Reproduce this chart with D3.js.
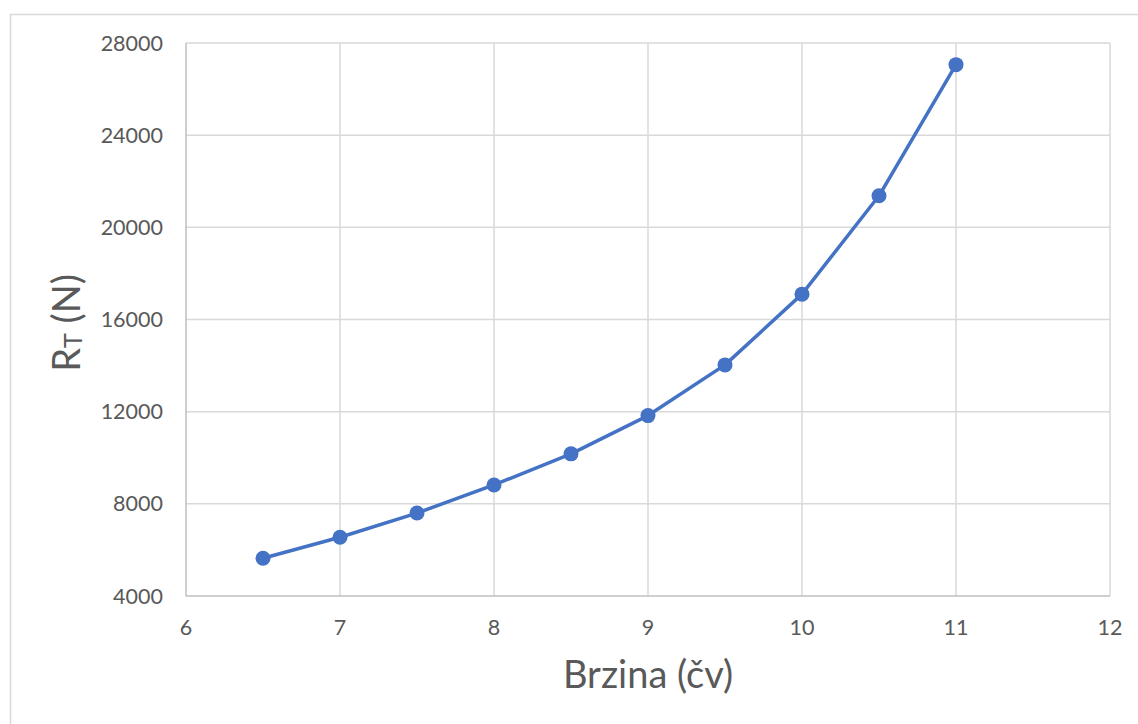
<!DOCTYPE html>
<html>
<head>
<meta charset="utf-8">
<title>RT vs Brzina</title>
<script src="https://cdn.jsdelivr.net/npm/d3@7"></script>
<style>
  body { margin: 0; background: #fff; }
  text { font-family: Lato, "Open Sans", sans-serif; fill: #595959; }
</style>
</head>
<body>
<div id="chart"></div>
<script>
// speed in knots and total resistance in N
var speeds = [6.5, 7, 7.5, 8, 8.5, 9, 9.5, 10, 10.5, 11];
var resist = [5640, 6550, 7600, 8820, 10170, 11830, 14030, 17100, 21370, 27060];
var xTicks = [6, 7, 8, 9, 10, 11, 12];
var yTicks = [4000, 8000, 12000, 16000, 20000, 24000, 28000];

var W = 1138, H = 724;
var m = { left: 186, top: 43, right: 1110, bottom: 596 };

var svg = d3.select('#chart').append('svg')
  .attr('width', W).attr('height', H);

// chart frame
svg.append('rect')
  .attr('x', 10.5).attr('y', 14.5)
  .attr('width', W + 10).attr('height', H + 10)
  .attr('fill', 'none').attr('stroke', '#d9d9d9').attr('stroke-width', 1.5);

var x = d3.scaleLinear().domain([6, 12]).range([m.left, m.right]);
var y = d3.scaleLinear().domain([4000, 28000]).range([m.bottom, m.top]);

// gridlines
svg.append('g').selectAll('line.vg')
  .data(xTicks.slice(1)).enter().append('line')
  .attr('x1', function(d){ return x(d); }).attr('x2', function(d){ return x(d); })
  .attr('y1', m.top).attr('y2', m.bottom)
  .attr('stroke', '#d9d9d9').attr('stroke-width', 1.5);

svg.append('g').selectAll('line.hg')
  .data(yTicks.slice(1)).enter().append('line')
  .attr('y1', function(d){ return y(d); }).attr('y2', function(d){ return y(d); })
  .attr('x1', m.left).attr('x2', m.right)
  .attr('stroke', '#d9d9d9').attr('stroke-width', 1.5);

// axes lines
svg.append('line')
  .attr('x1', m.left).attr('x2', m.left).attr('y1', m.top).attr('y2', m.bottom)
  .attr('stroke', '#bfbfbf').attr('stroke-width', 1.5);
svg.append('line')
  .attr('x1', m.left).attr('x2', m.right).attr('y1', m.bottom).attr('y2', m.bottom)
  .attr('stroke', '#bfbfbf').attr('stroke-width', 1.5);

// tick labels
svg.append('g').selectAll('text')
  .data(xTicks).enter().append('text')
  .attr('x', function(d){ return x(d); })
  .attr('y', 635)
  .attr('text-anchor', 'middle')
  .style('font-size', '21.5px')
  .text(function(d){ return d; });

svg.append('g').selectAll('text')
  .data(yTicks).enter().append('text')
  .attr('x', 163)
  .attr('y', function(d){ return y(d) + 7.5; })
  .attr('text-anchor', 'end')
  .style('font-size', '21.5px')
  .text(function(d){ return d; });

// axis titles
svg.append('text')
  .attr('x', 648).attr('y', 688)
  .attr('text-anchor', 'middle')
  .style('font-size', '38px')
  .text('Brzina (čv)');

var yt = svg.append('text')
  .attr('transform', 'translate(80,323) rotate(-90)')
  .attr('text-anchor', 'middle')
  .style('font-size', '38px');
yt.append('tspan').text('R');
yt.append('tspan').attr('baseline-shift', '-2').style('font-size', '25px').text('T');
yt.append('tspan').attr('baseline-shift', '0').text(' (N)');

// series
var pts = speeds.map(function(s, i){ return { s: s, r: resist[i] }; });

svg.append('path')
  .datum(pts)
  .attr('fill', 'none')
  .attr('stroke', '#4472c4')
  .attr('stroke-width', 3.5)
  .attr('stroke-linejoin', 'round')
  .attr('d', d3.line()
    .x(function(d){ return x(d.s); })
    .y(function(d){ return y(d.r); }));

svg.append('g').selectAll('circle')
  .data(pts).enter().append('circle')
  .attr('cx', function(d){ return x(d.s); })
  .attr('cy', function(d){ return y(d.r); })
  .attr('r', 7.5)
  .attr('fill', '#4472c4');
</script>
</body>
</html>
